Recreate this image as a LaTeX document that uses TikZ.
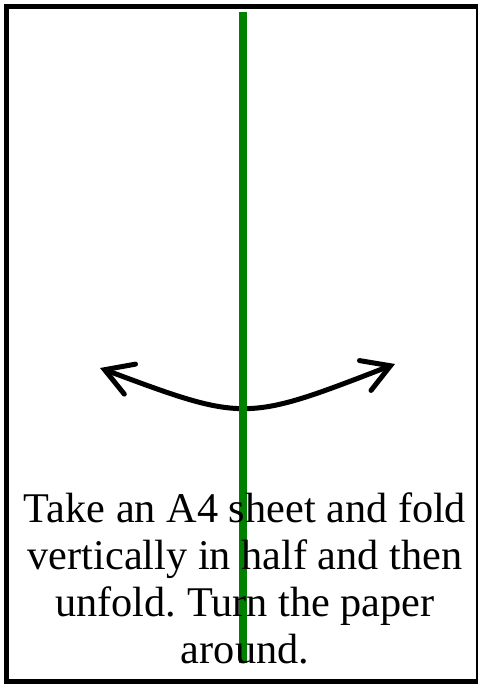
\documentclass[tikz,border=0pt]{standalone}
\usepackage{fontspec}
\setmainfont{Liberation Serif}
\usetikzlibrary{arrows.meta}
\frenchspacing
\begin{document}
\begin{tikzpicture}[x=1pt, y=-1pt, every node/.style={font=\fontsize{42.3}{47}\selectfont}]
  \definecolor{foldgreen}{RGB}{0,128,0}
  \useasboundingbox (0,0) rectangle (477,684);
  % sheet
  \draw[line width=5.5pt] (6.7,6.7) rectangle (478.8,682);
  % fold arrow
  \coordinate (left) at (100,368);
  \coordinate (right) at (395,364);
  \draw[line width=5pt, {Straight Barb[length=27pt,width=32pt,line cap=round]}-{Straight Barb[length=27pt,width=32pt,line cap=round]}]
    (left) .. controls (245,422) .. (right);
  % fold line
  \coordinate (top) at (243.3,12);
  \coordinate (bottom) at (243.3,663);
  \draw[foldgreen, line width=8pt] (top) -- (bottom);
  % instruction
  \node[anchor=base, align=center, inner sep=0pt] (text) at (245,663)
    {Take an A4 sheet and fold\\vertically in half and then\\unfold. Turn the paper\\around.};
\end{tikzpicture}
\end{document}
